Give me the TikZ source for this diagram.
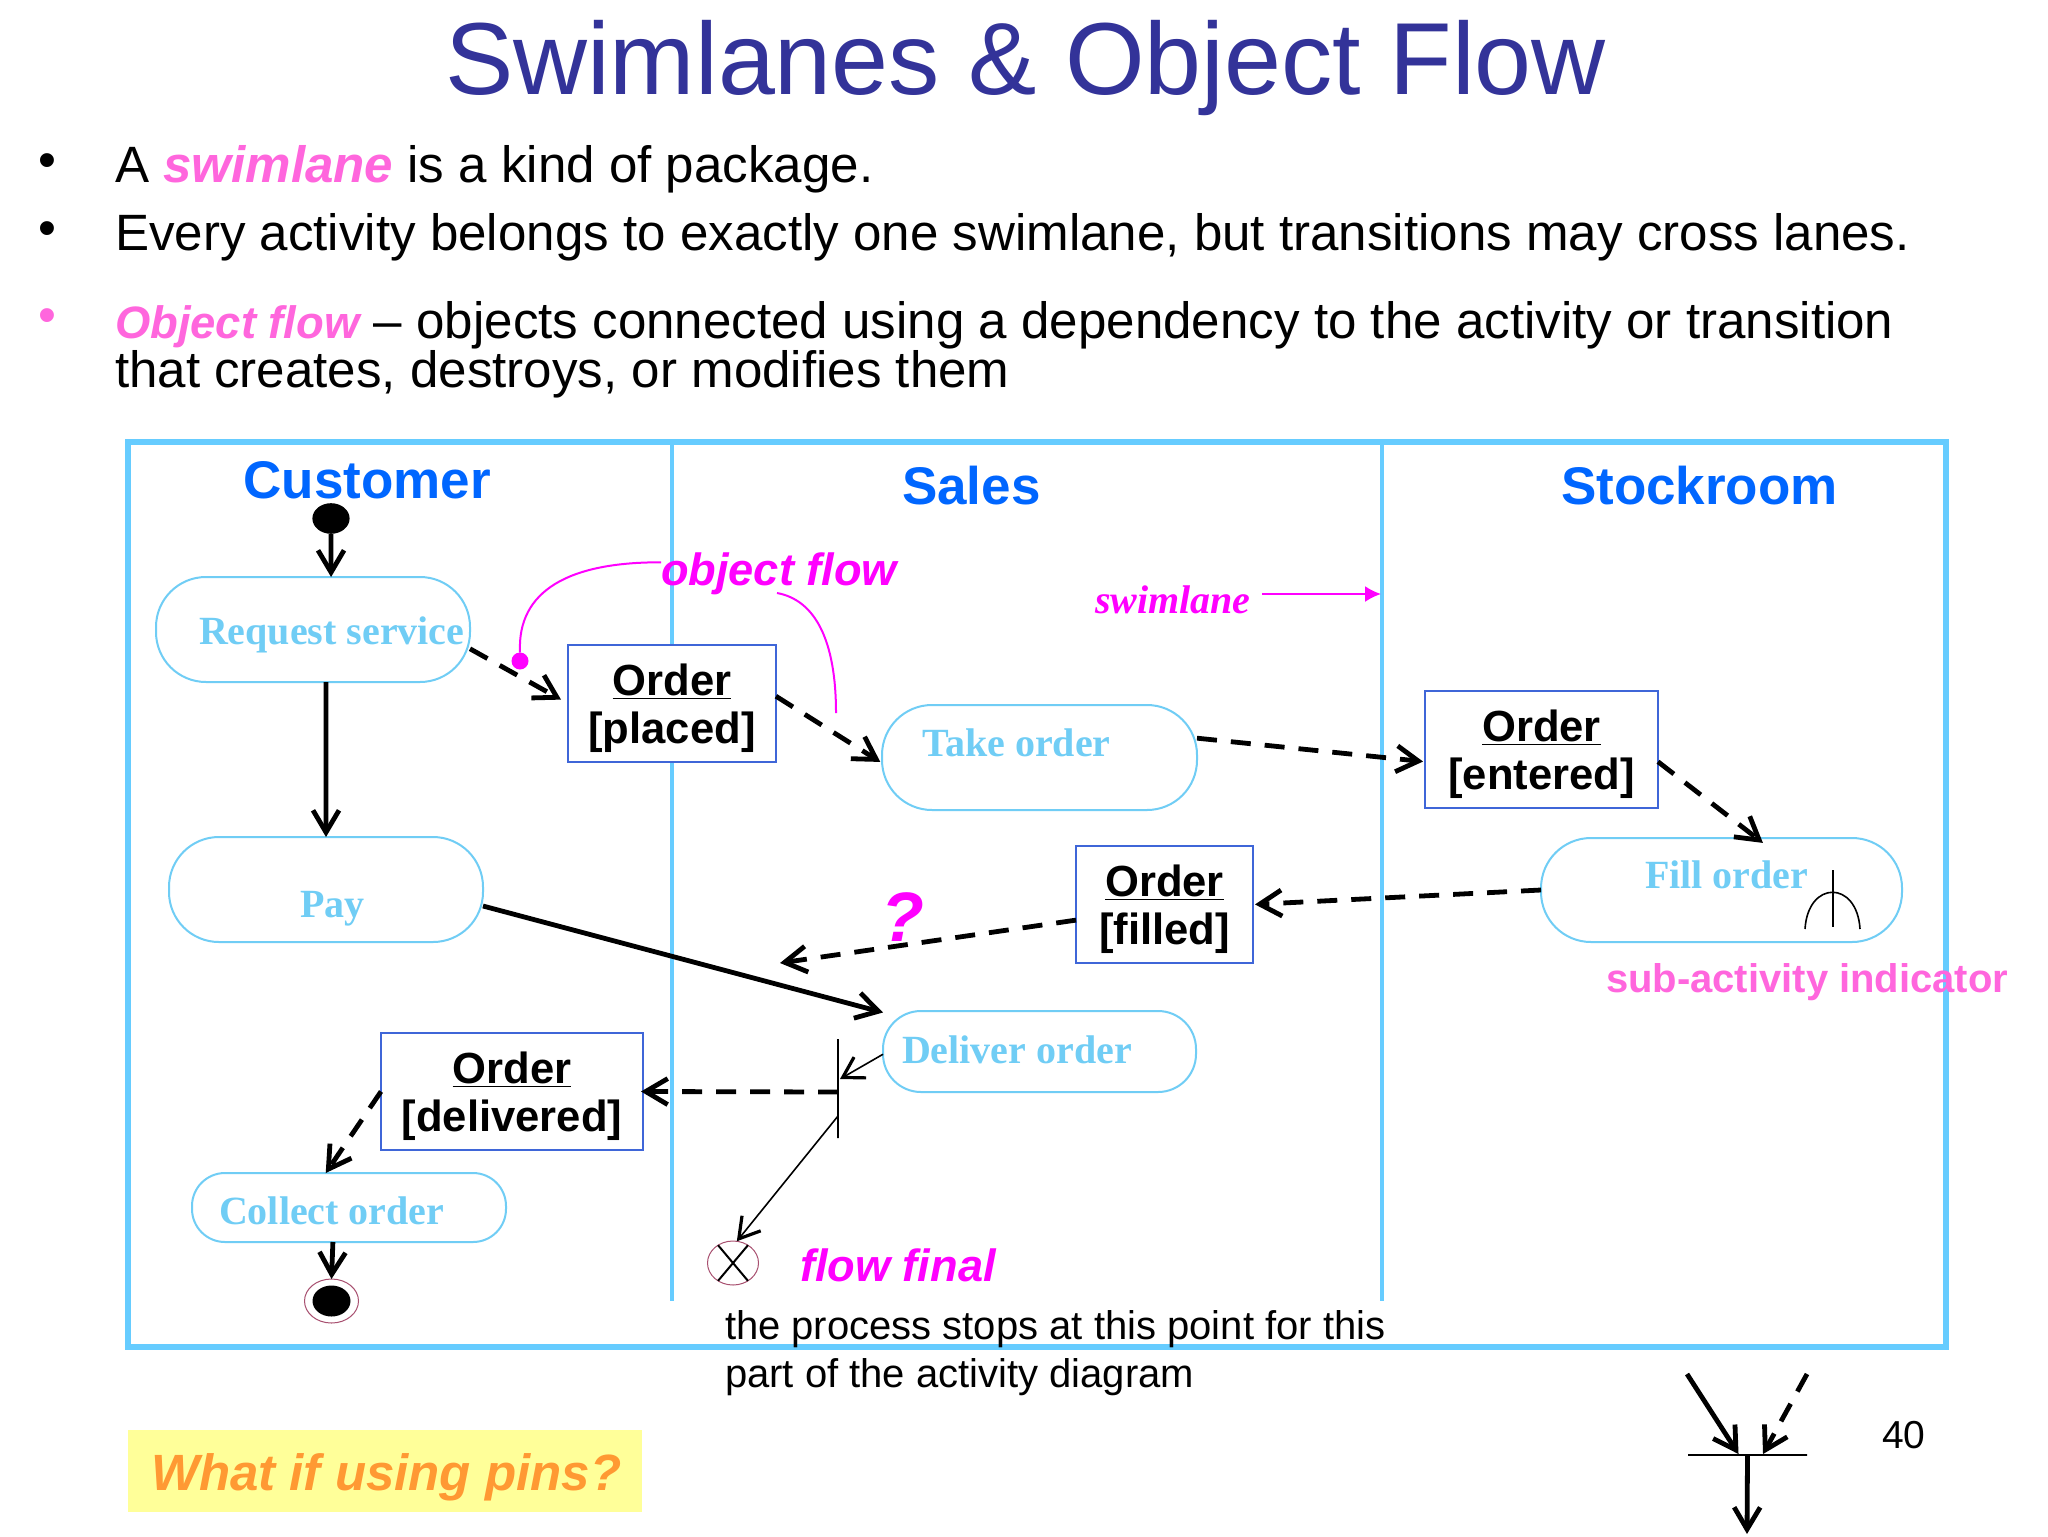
\documentclass[tikz,border=0pt]{standalone}
\usepackage{fontspec}
\setmainfont{Liberation Sans}
\newfontfamily\serifbf{Liberation Serif}
\usetikzlibrary{arrows.meta,calc,shapes.geometric}
\definecolor{titlec}{HTML}{333399}
\definecolor{lanec}{HTML}{66CCFF}
\definecolor{actc}{HTML}{70CDF5}
\definecolor{boxc}{HTML}{3F66D8}
\definecolor{lanetxt}{HTML}{0066FF}
\definecolor{pinkc}{HTML}{FF66DD}
\definecolor{magc}{HTML}{FF00FF}
\definecolor{orangec}{HTML}{FF9933}
\definecolor{yellowc}{HTML}{FFFF99}
\definecolor{ringc}{HTML}{A85070}
\newcommand\objl[1]{\begin{tabular}{@{}c@{}}\rule{0pt}{23.3pt}\underline{Order}\\{[#1]}\end{tabular}}
\newcommand\hilite[1]{\textcolor{pinkc}{\bfseries\itshape #1}}
\tikzset{
  txt/.style={anchor=base west,inner sep=0pt,outer sep=0pt},
  lanehead/.style={txt,text=lanetxt,font=\fontsize{26.5}{30}\selectfont\bfseries},
  bullettxt/.style={txt,text=black,font=\fontsize{25.55}{30}\selectfont},
  acttxt/.style={txt,text=actc,font=\fontsize{20}{24}\selectfont\serifbf\bfseries},
  acty/.style={rectangle,draw=actc,line width=1pt,inner sep=0pt,outer sep=0pt,rounded corners=#1},
  objbox/.style={rectangle,draw=boxc,fill=white,line width=1pt,inner sep=0pt,outer sep=0pt,
     minimum height=58.5pt,text=black,font=\fontsize{21.8}{24}\selectfont\bfseries},
  barb/.style={-{Straight Barb[length=11pt,width=13pt,line width=2.4pt]}},
  solidflow/.style={barb,line width=2.4pt,black},
  dashflow/.style={barb,line width=2.4pt,black,dash pattern=on 10pt off 7pt},
  thinflow/.style={-{Straight Barb[length=10pt,width=12pt,line width=1.6pt]},line width=0.8pt,black},
  callout/.style={draw=magc,line width=1pt},
  lanerule/.style={draw=lanec,line width=2pt},
  blackdot/.style={ellipse,fill=black,inner sep=0pt,outer sep=0pt},
}
\begin{document}
\begin{tikzpicture}[x=0.5pt,y=-0.5pt]
\useasboundingbox (0,0) rectangle (2048,1536);
\fill[white] (0,0) rectangle (2048,1536);

% heading and bullets
\node[txt,text=titlec,font=\fontsize{51.2}{56}\selectfont] (title) at (445,95) {Swimlanes \& Object Flow};
\node[bullettxt] (b1) at (38,177) {•};
\node[bullettxt] (b2) at (38,245) {•};
\node[bullettxt,text=pinkc] (b3) at (38,332) {•};
\node[bullettxt] (l1) at (115,182.5) {A \hilite{swimlane} is a kind of package.};
\node[bullettxt] (l2) at (115,250.5) {Every activity belongs to exactly one swimlane, but transitions may cross lanes.};
\node[bullettxt] (l3) at (115,338) {{\fontsize{22.7}{30}\selectfont\hilite{Object flow}} – objects connected using a dependency to the activity or transition};
\node[bullettxt] (l4) at (115,387.6) {that creates, destroys, or modifies them};

% frame and lanes
\draw[lanec,line width=2.6pt] (128,442) rectangle (1946,1347);
\coordinate (l1t) at (671.5,442);
\coordinate (l1b) at (671.5,1301);
\coordinate (l2t) at (1381.5,442);
\coordinate (l2b) at (1381.5,1301);
\draw[lanerule] (l1t) -- (l1b);
\draw[lanerule] (l2t) -- (l2b);

\node[lanehead] (hc) at (243.5,498) {Customer};
\node[lanehead] (hs) at (902,504) {Sales};
\node[lanehead] (hr) at (1561,504) {Stockroom};

% activities
\node[acty=25pt,minimum width=157pt,minimum height=52.5pt] (rs) at (313,629.5) {};
\node[acty=25pt,minimum width=157pt,minimum height=52.5pt] (pay) at (326,889.5) {};
\node[acty=25pt,minimum width=157.5pt,minimum height=52.5pt] (take) at (1039.5,757.5) {};
\node[acty=19pt,minimum width=156.5pt,minimum height=40.5pt] (deliver) at (1039.5,1051.5) {};
\node[acty=16.5pt,minimum width=157pt,minimum height=34.5pt] (collect) at (349,1207.5) {};
\node[acty=25pt,minimum width=180.5pt,minimum height=52pt] (fill) at (1721.5,890) {};

\node[acttxt] (trs) at (199,644.5) {Request service};
\node[acttxt] (tpay) at (300,917) {Pay};
\node[acttxt] (ttake) at (922,756) {Take order};
\node[acttxt] (tdel) at (902,1063) {Deliver order};
\node[acttxt] (tcol) at (219,1224) {Collect order};
\node[acttxt] (tfill) at (1645,888) {Fill order};

% objects
\node[objbox,minimum width=104pt] (placed) at (672,703.5) {\objl{placed}};
\node[objbox,minimum width=88.5pt] (filled) at (1164.5,904.5) {\objl{filled}};
\node[objbox,minimum width=116.5pt] (entered) at (1541.5,749.5) {\objl{entered}};
\node[objbox,minimum width=131pt] (delivered) at (512,1091.5) {\objl{delivered}};

% pseudo-states
\node[blackdot,minimum width=18.6pt,minimum height=15.3pt] (start) at (331,518.5) {};
\node[ellipse,draw=ringc,line width=0.5pt,fill=white,inner sep=0pt,outer sep=0pt,minimum width=27pt,minimum height=22pt] (endst) at (331.5,1301) {};
\node[blackdot,minimum width=19pt,minimum height=15.5pt] (endin) at (331.5,1301) {};
\node[ellipse,draw=ringc,line width=0.5pt,inner sep=0pt,outer sep=0pt,minimum width=25.5pt,minimum height=22pt] (ff) at (733,1263) {};
\draw[black,line width=1pt] (ff.130) -- (ff.-50);
\draw[black,line width=1pt] (ff.50) -- (ff.-130);
\node[rectangle,draw=black,line width=0.8pt,inner sep=0pt,outer sep=0pt,minimum width=0pt,minimum height=49.5pt] (bar) at (838,1088.5) {};

% flows
\draw[solidflow] (start.south) -- (rs.71);
\draw[solidflow] (rs.-76) -- (pay.north);
\draw[dashflow,shorten >=4pt] (rs.-7) -- (placed.west);
\draw[dashflow,shorten >=1pt] (placed.4) -- (take.182);
\draw[dashflow,shorten >=1pt] (take.7) -- (entered.186);
\draw[dashflow,shorten >=-4pt] (entered.-6) -- (fill.56);
\draw[dashflow,shorten >=1pt] (fill.west) -- (filled.east);
\coordinate (qend) at (780,963);
\draw[dashflow] (filled.190) -- (qend);
\draw[solidflow] (pay.-6.5) -- (deliver.166);
\draw[thinflow] (deliver.181) -- ($(bar.center)+(2,-9.5)$);
\draw[dashflow,shorten >=-1pt] ($(bar.center)+(0,3.5)$) -- (delivered.east);
\draw[dashflow] (delivered.west) -- (collect.124);
\draw[solidflow] (collect.-115) -- (endst.north);
\draw[thinflow] ($(bar.center)+(0,27.5)$) -- (ff.80);

% sub-activity indicator
\coordinate (ia) at (1833,870);
\coordinate (ib) at (1833,927);
\coordinate (ic) at (1805,929);
\coordinate (id) at (1860,929);
\draw[black,line width=0.8pt] (ia) -- (ib);
\draw[black,line width=0.8pt] (ic) .. controls (1808,880) and (1857,880) .. (id);
\node[txt,text=pinkc,font=\fontsize{20}{24}\selectfont\bfseries] (subt) at (1606,992) {sub-activity indicator};

% callouts
\node[txt,text=magc,font=\fontsize{22.6}{26}\selectfont\bfseries\itshape] (of) at (661,585) {object flow};
\node[circle,fill=magc,inner sep=0pt,outer sep=0pt,minimum size=8.5pt] (ofdot) at (520,661) {};
\coordinate (ofa) at (777,593);
\coordinate (ofb) at (836,713);
\draw[callout] ($(of.west)+(0,-11)$) .. controls (570,562) and (517,590) .. (ofdot.north);
\draw[callout] (ofa) .. controls (815,600) and (836,640) .. (ofb);
\node[txt,text=magc,font=\fontsize{20}{24}\selectfont\serifbf\bfseries\itshape] (swl) at (1095,613) {swimlane};
\coordinate (swa) at (1262,594);
\coordinate (swb) at (1381,594);
\draw[magc,line width=1pt,-{Latex[length=8pt,width=8pt]}] (swa) -- (swb);
\node[txt,text=magc,font=\fontsize{35}{38}\selectfont\bfseries\itshape] (qm) at (881,941) {?};
\node[txt,text=magc,font=\fontsize{22.6}{26}\selectfont\bfseries\itshape] (fft) at (800,1281.5) {flow final};
\node[txt,text=black,font=\fontsize{20}{24}\selectfont] (p1) at (725,1339.5) {the process stops at this point for this};
\node[txt,text=black,font=\fontsize{20}{24}\selectfont] (p2) at (725,1387.5) {part of the activity diagram};

% bottom
\fill[yellowc] (128,1430) rectangle (642,1512);
\node[txt,text=orangec,font=\fontsize{25.5}{30}\selectfont\bfseries\itshape] (pins) at (151,1490.5) {What if using pins?};

\node[rectangle,draw=black,line width=1pt,inner sep=0pt,outer sep=0pt,minimum width=59.5pt,minimum height=0pt] (jbar) at (1747.5,1455) {};
\coordinate (ja) at (1687,1374);
\coordinate (jb) at (1807,1374);
\coordinate (jc) at (1747,1534);
\draw[solidflow] (ja) -- ($(jbar.center)+(-9,-1)$);
\draw[dashflow] (jb) -- ($(jbar.center)+(15.5,-1)$);
\draw[solidflow] (jbar.center) -- (jc);
\node[txt,text=black,font=\fontsize{19.5}{24}\selectfont] (pg) at (1882,1448) {40};
\end{tikzpicture}
\end{document}
